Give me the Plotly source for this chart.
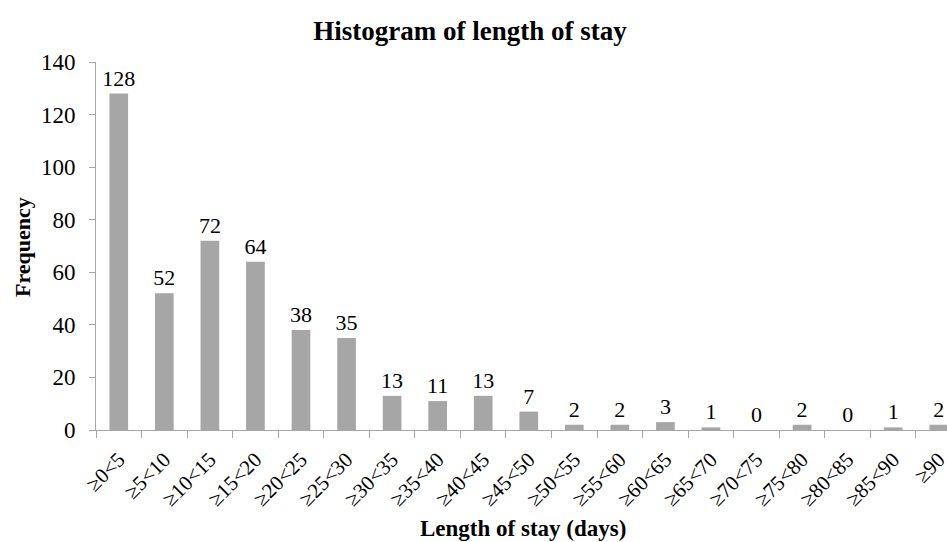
import plotly.graph_objects as go

categories = ["≥0<5", "≥5<10", "≥10<15", "≥15<20", "≥20<25", "≥25<30", "≥30<35",
              "≥35<40", "≥40<45", "≥45<50", "≥50<55", "≥55<60", "≥60<65", "≥65<70",
              "≥70<75", "≥75<80", "≥80<85", "≥85<90", "≥90"]
frequency = [128, 52, 72, 64, 38, 35, 13, 11, 13, 7, 2, 2, 3, 1, 0, 2, 0, 1, 2]
y_ticks = [0, 20, 40, 60, 80, 100, 120, 140]

FONT = "Liberation Serif, Times New Roman, serif"
W, H = 947, 542
L, R, T, B = 96, 0, 62, 112

fig = go.Figure()
fig.add_trace(go.Bar(
    x=list(range(len(categories))),
    y=frequency,
    marker=dict(color="#A6A6A6", line=dict(width=0)),
    width=0.41,
    text=[str(v) for v in frequency],
    textposition="outside",
    constraintext="none",
    cliponaxis=False,
    textfont=dict(family=FONT, size=22, color="black"),
))

fig.update_layout(
    width=W, height=H,
    margin=dict(l=L, r=R, t=T, b=B, autoexpand=False),
    paper_bgcolor="white", plot_bgcolor="white",
    showlegend=False,
    title=dict(text="<b>Histogram of length of stay</b>", x=470 / W, xref="container",
               xanchor="center", y=1 - 31 / H, yref="container", yanchor="middle",
               font=dict(family=FONT, size=27, color="black")),
    font=dict(family=FONT, color="black"),
    annotations=[
        dict(text="<b>Length of stay (days)</b>", xref="paper", yref="paper",
             x=(523 - L) / (W - L - R), y=-(528 - (H - B)) / (H - T - B),
             xanchor="center", yanchor="middle", showarrow=False,
             font=dict(family=FONT, size=23, color="black")),
        dict(text="<b>Frequency</b>", xref="paper", yref="paper",
             x=-(L - 22) / (W - L - R), y=(H - B - 247) / (H - T - B),
             xanchor="center", yanchor="middle", textangle=-90, showarrow=False,
             font=dict(family=FONT, size=22, color="black")),
    ],
)

fig.update_xaxes(
    automargin=False,
    tickmode="array",
    tickvals=list(range(len(categories))),
    ticktext=categories,
    range=[-0.5, 18.5 - 14.5 / 45.5],
    tickangle=-45,
    tickfont=dict(family=FONT, size=21, color="black"),
    ticklabeloverflow="allow",
    ticklabelstandoff=8,
    showgrid=False, zeroline=False,
    showline=True, linecolor="#A6A6A6", linewidth=1,
    ticks="", ticklen=8, tickcolor="white",
    minor=dict(tickmode="array", tickvals=[i - 0.5 for i in range(len(categories) + 1)],
               ticks="outside", ticklen=7, tickcolor="#A6A6A6", tickwidth=1),
)

fig.update_yaxes(
    automargin=False,
    range=[0, 140],
    tickmode="array", tickvals=y_ticks,
    tickfont=dict(family=FONT, size=23, color="black"),
    ticklabelstandoff=9,
    showgrid=False, zeroline=False,
    showline=True, linecolor="#A6A6A6", linewidth=1,
    ticks="outside", ticklen=6, tickcolor="#A6A6A6",
)

fig.write_html(
    "out.html",
    config={"displayModeBar": False},
    post_script="document.body.style.margin='0';document.body.style.overflow='hidden';",
)
